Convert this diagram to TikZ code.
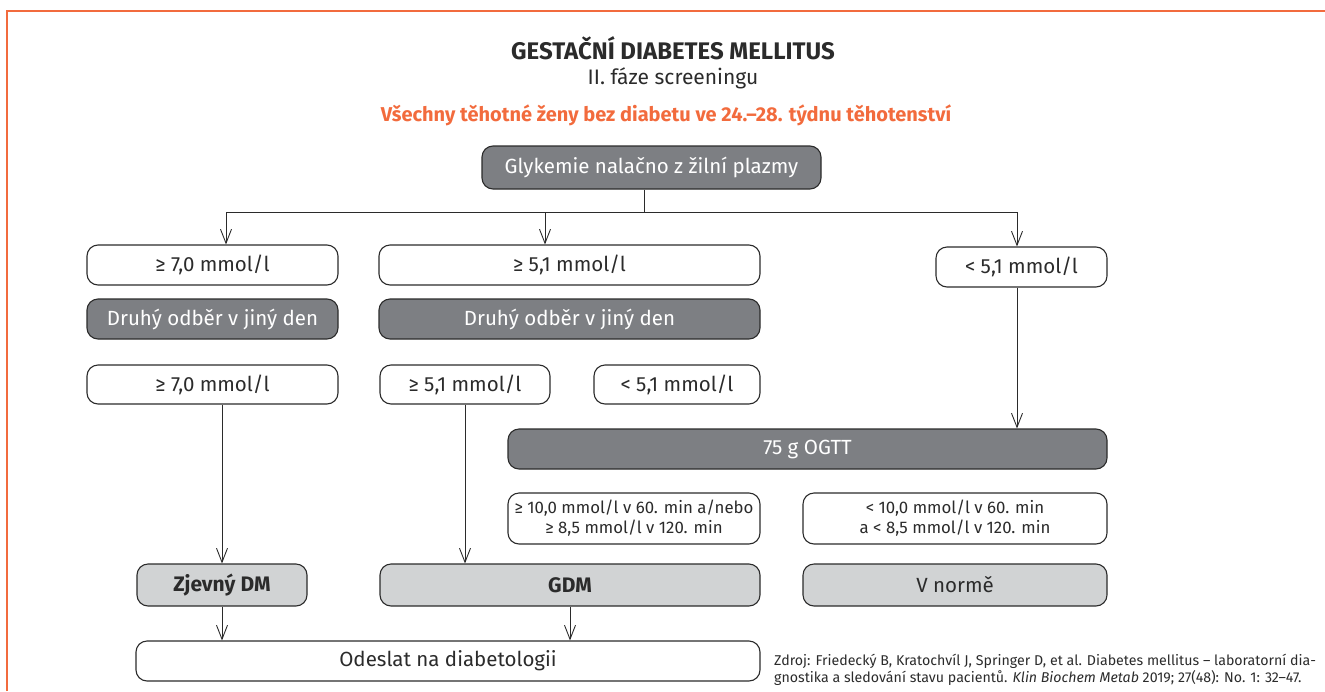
\documentclass[tikz,border=0pt]{standalone}
\usepackage{fontspec}
\setmainfont{Fira Sans}
\usetikzlibrary{arrows.meta}
\definecolor{ora}{HTML}{F26B3D}
\definecolor{dgray}{HTML}{7D7F83}
\definecolor{lgray}{HTML}{D1D3D4}
\definecolor{ink}{HTML}{2B2B2B}
\tikzset{
  box/.style={draw=ink, line width=1.1pt, rounded corners=11pt, inner sep=0pt, align=center,
    font=\fontsize{20.5}{23}\selectfont, text=ink},
  wbox/.style={box, fill=white},
  dbox/.style={box, fill=dgray, text=white},
  lbox/.style={box, fill=lgray},
  boldtxt/.style={font=\bfseries\fontsize{21}{24}\selectfont},
  smallbox/.style={box, fill=white, font=\fontsize{16.8}{20}\selectfont},
  ln/.style={draw=ink, line width=0.9pt},
  arr/.style={draw=ink, line width=0.9pt, -{Straight Barb[length=14pt,width=11pt]}}
}
\begin{document}
\begin{tikzpicture}[x=1pt,y=-1pt]
\useasboundingbox (0,0) rectangle (1325,691);
\draw[ora, line width=2pt] (7,691) -- (7,11) -- (1325,11);

\node[font=\bfseries\fontsize{24}{26}\selectfont, text=ink] (title) at (673,48) {GESTAČNÍ DIABETES MELLITUS};
\node[font=\fontsize{21}{24}\selectfont, text=ink] (sub) at (673,78) {II. fáze screeningu};
\node[font=\bfseries\fontsize{20}{23}\selectfont, text=ora] (all) at (666,115) {Všechny těhotné ženy bez diabetu ve 24.–28. týdnu těhotenství};

\node[dbox, minimum width=339, minimum height=43] (glyk) at (651.5,167.5) {Glykemie nalačno z žilní plazmy};

\node[wbox, minimum width=251, minimum height=40] (A1) at (212.5,265) {≥ 7,0 mmol/l};
\node[wbox, minimum width=381, minimum height=40] (B1) at (569.5,265) {≥ 5,1 mmol/l};
\node[wbox, minimum width=171, minimum height=40] (C1) at (1021.5,267) {< 5,1 mmol/l};

\node[dbox, minimum width=251, minimum height=40] (A2) at (212.5,319) {Druhý odběr v jiný den};
\node[dbox, minimum width=381, minimum height=40] (B2) at (569.5,319) {Druhý odběr v jiný den};

\node[wbox, minimum width=251, minimum height=39] (A3) at (212.5,384.5) {≥ 7,0 mmol/l};
\node[wbox, minimum width=170, minimum height=39] (B3) at (465,384.5) {≥ 5,1 mmol/l};
\node[wbox, minimum width=166, minimum height=39] (B3b) at (677,384.5) {< 5,1 mmol/l};

\node[dbox, minimum width=599, minimum height=40] (ogtt) at (807.5,449) {75 g OGTT};

\node[smallbox, minimum width=252, minimum height=51] (D1) at (634,518.5) {≥ 10,0 mmol/l v 60. min a/nebo\\≥ 8,5 mmol/l v 120. min};
\node[smallbox, minimum width=304, minimum height=51] (D2) at (955,518.5) {< 10,0 mmol/l v 60. min\\a < 8,5 mmol/l v 120. min};

\node[lbox, boldtxt, minimum width=170, minimum height=42] (E1) at (222,585) {Zjevný DM};
\node[lbox, boldtxt, minimum width=380, minimum height=42] (E2) at (570,585) {GDM};
\node[lbox, minimum width=304, minimum height=42] (E3) at (955,585) {V normě};

\node[wbox, minimum width=624, minimum height=40] (od) at (448,661) {Odeslat na diabetologii};

\node[anchor=north west, align=left, inner sep=0pt, text=ink, font=\fontsize{14.2}{17}\selectfont] (src) at (774,654)
  {Zdroj: Friedecký B, Kratochvíl J, Springer D, et al. Diabetes mellitus – laboratorní dia-\\gnostika a sledování stavu pacientů. \textit{Klin Biochem Metab} 2019; 27(48): No. 1: 32–47.};

\coordinate (sp) at (644,212);
\coordinate (hl) at (226,212);
\coordinate (hm) at (545,212);
\coordinate (hr) at (1017,212);
\draw[ln] (glyk.south -| sp) -- (sp);
\draw[ln] (hl) -- (hr);
\draw[arr] (hl) -- (hl |- A1.north);
\draw[arr] (hm) -- (hm |- B1.north);
\draw[arr] (hr) -- (hr |- C1.north);
\draw[arr] (C1.south -| hr) -- (hr |- ogtt.north);
\draw[arr] (A3.south -| E1.north) -- (E1.north);
\draw[arr] (B3.south) -- (B3.south |- E2.north);
\draw[arr] (E1.south) -- (E1.south |- od.north);
\draw[arr] (E2.south) -- (E2.south |- od.north);
\end{tikzpicture}
\end{document}
